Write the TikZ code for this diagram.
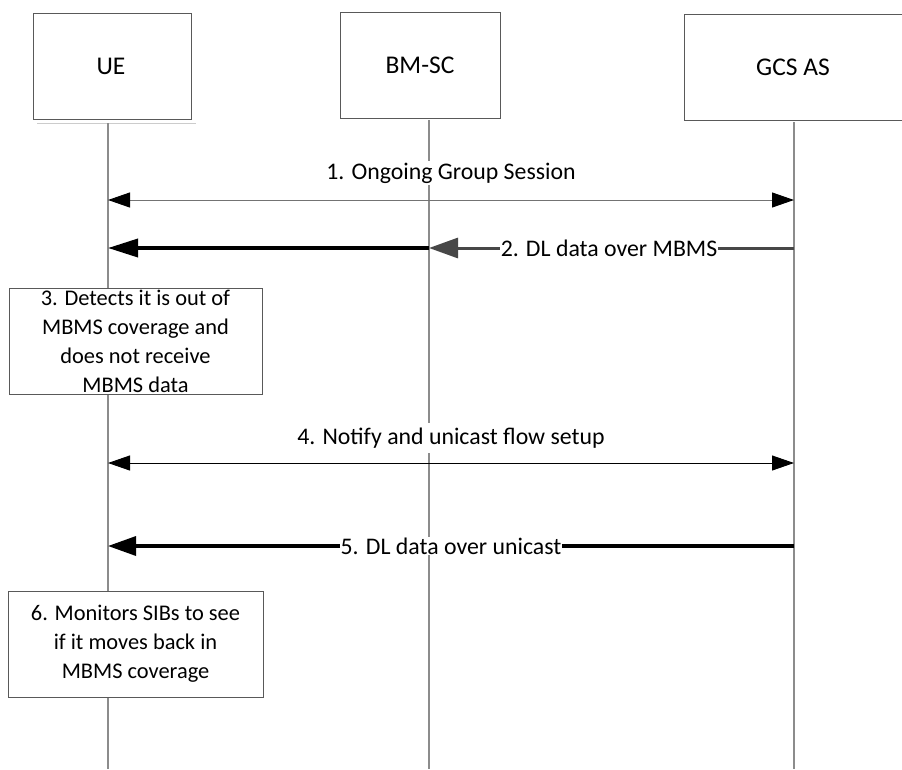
\documentclass[tikz,border=0pt]{standalone}
\usepackage{fontspec}
\setmainfont{Carlito}
\usetikzlibrary{arrows.meta}
\tikzset{
  x=1pt, y=-1pt,
  actor/.style={draw=black!65, line width=1pt, fill=white, minimum width=#1, minimum height=106pt, inner sep=0pt},
  lifeline/.style={draw=black!45, line width=1.3pt},
  stepbox/.style={draw=black!65, line width=1pt, fill=white, minimum width=254pt, minimum height=106pt, inner sep=0pt, align=center, font=\fontsize{22.4}{29}\selectfont},
  actortxt/.style={font=\fontsize{25.5}{30}\selectfont},
  lbl/.style={font=\fontsize{23.8}{29}\selectfont, fill=white, inner xsep=1pt, inner ysep=2pt},
  thinmsg/.style={draw=black!55, line width=1pt, {Triangle[length=22pt,width=15pt,fill=black,color=black]}-{Triangle[length=22pt,width=15pt,fill=black,color=black]}},
  thinmsgb/.style={draw=black, line width=0.9pt, {Triangle[length=22pt,width=15pt]}-{Triangle[length=22pt,width=15pt]}},
  thickmsg/.style={draw=black, line width=3.4pt, -{Triangle[length=28pt,width=19pt]}},
  graymsg/.style={draw=black!72, line width=3pt, -{Triangle[length=29pt,width=20pt]}},
}
\begin{document}
\begin{tikzpicture}
\useasboundingbox (0,0) rectangle (902,769);
\fill[white] (0,0) rectangle (902,769);

% actor boxes
\node[actor=158pt] (ue) at (112,66) {};
\node[actor=160pt] (bmsc) at (420,65) {};
\node[actor=222pt] (gcs) at (795,67) {};
\node[actortxt] (uet) at (111,66) {UE};
\node[actortxt] (bmsct) at (420,65) {BM-SC};
\node[actortxt] (gcst) at (793,67) {GCS AS};
\draw[black!20, line width=1pt] (37,123) -- (196,123);

% lifeline coordinates
\coordinate (ueTop) at (108,123);
\coordinate (ueBot) at (108,769);
\coordinate (bmTop) at (429,120);
\coordinate (bmBot) at (429,769);
\coordinate (gcTop) at (794,122);
\coordinate (gcBot) at (794,769);

\draw[lifeline] (ueTop) -- (ueBot);
\draw[lifeline] (bmTop) -- (bmBot);
\draw[lifeline] (gcTop) -- (gcBot);

% message endpoints
\coordinate (m1a) at (108,200);
\coordinate (m1b) at (794,200);
\coordinate (m2a) at (108,248);
\coordinate (m2b) at (429,248);
\coordinate (m2c) at (794,248);
\coordinate (m4a) at (108,463);
\coordinate (m4b) at (794,463);
\coordinate (m5a) at (108,546);
\coordinate (m5b) at (794,546);

% 1
\node[lbl] (l1) at (451,173) {1. Ongoing Group Session};
\draw[thinmsg] (m1a) -- (m1b);

% 2
\draw[graymsg] (m2c) -- (m2b);
\draw[thickmsg, line width=3.6pt, -{Triangle[length=30pt,width=18pt]}] (m2b) -- (m2a);
\node[lbl, inner xsep=0.5pt, inner ysep=1pt] (l2) at (609,248) {2. DL data over MBMS};

% 3
\node[stepbox, minimum width=253pt] (s3) at (135.5,341) {3. Detects it is out of\\MBMS coverage and\\does not receive\\MBMS data};

% 4
\node[lbl, inner ysep=5pt] (l4) at (451,438) {4. Notify and unicast flow setup};
\draw[thinmsgb] (m4a) -- (m4b);

% 5
\draw[thickmsg] (m5b) -- (m5a);
\node[lbl, inner xsep=0.5pt, inner ysep=1pt] (l5) at (451,546) {5. DL data over unicast};

% 6
\node[stepbox, minimum width=255pt] (s6) at (135.5,644) {6. Monitors SIBs to see\\if it moves back in\\MBMS coverage};
\end{tikzpicture}
\end{document}
